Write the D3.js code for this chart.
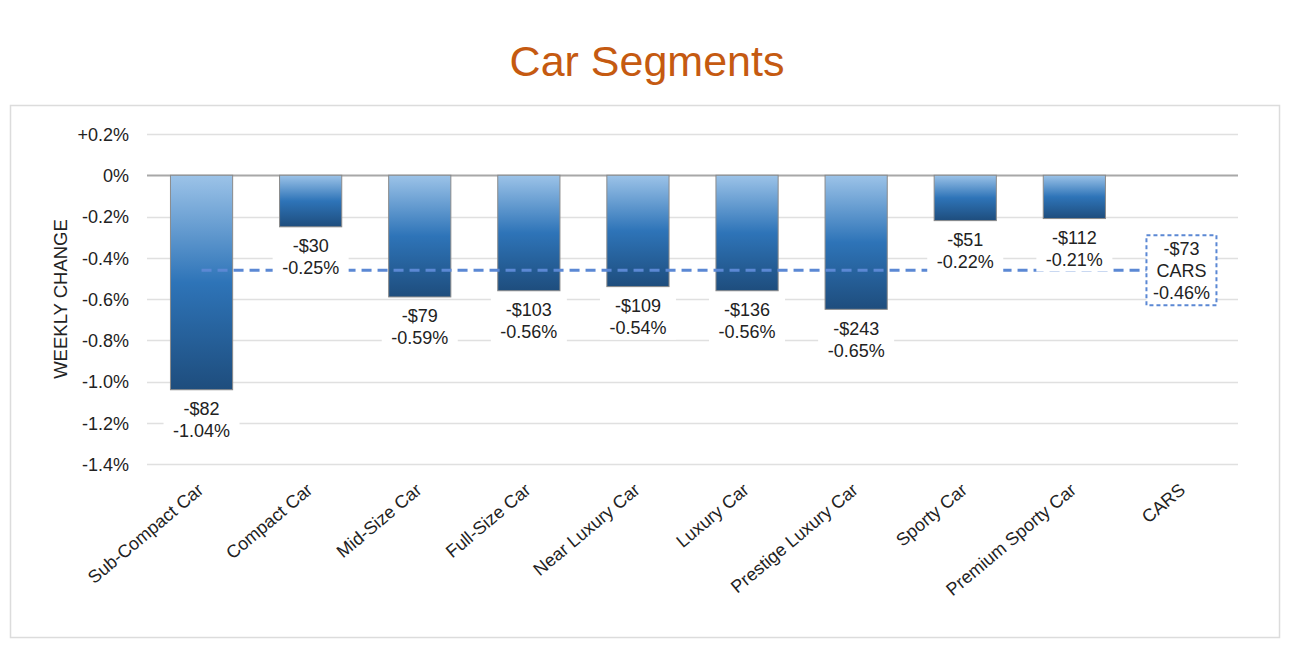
<!doctype html>
<html>
<head>
<meta charset="utf-8" />
<style>
  body { margin: 0; background: #fff; }
  svg text { font-family: "Liberation Sans", Arial, sans-serif; }
</style>
</head>
<body>
<svg id="chart" width="1292" height="652"></svg>
<script src="https://cdn.jsdelivr.net/npm/d3@7"></script>
<script>
// data
var segments = ["Sub-Compact Car", "Compact Car", "Mid-Size Car", "Full-Size Car", "Near Luxury Car",
                "Luxury Car", "Prestige Luxury Car", "Sporty Car", "Premium Sporty Car"];
var pctChange = [-1.04, -0.25, -0.59, -0.56, -0.54, -0.56, -0.65, -0.22, -0.21];
var dollarChange = [-82, -30, -79, -103, -109, -136, -243, -51, -112];
var totalName = "CARS";
var totalPct = -0.46;
var totalDollar = -73;
var yTicks = [0.2, 0, -0.2, -0.4, -0.6, -0.8, -1.0, -1.2, -1.4];

var svg = d3.select("#chart");
var cats = segments.concat([totalName]);
var fs = 18;

var x = d3.scaleBand().domain(cats).range([147, 1238]).paddingInner(0.43).paddingOuter(0.215);
var y = d3.scaleLinear().domain([-1.4, 0.2]).range([464, 134]);

var fmtTick = function (v) {
  if (Math.abs(v) < 1e-9) return "0%";
  return (v > 0 ? "+" : "") + v.toFixed(1) + "%";
};
var fmtDollar = function (v) { return (v < 0 ? "-$" : "$") + Math.abs(v); };

// outer frame
svg.append("rect").attr("x", 10.5).attr("y", 105.5).attr("width", 1269).attr("height", 532)
  .attr("fill", "none").attr("stroke", "#dcdcdc").attr("stroke-width", 1.5);

// title
svg.append("text").attr("x", 647).attr("y", 76).attr("text-anchor", "middle")
  .attr("font-size", 43).attr("fill", "#C55A11").text("Car Segments");

// gradient
var grad = svg.append("defs").append("linearGradient").attr("id", "barGrad")
  .attr("x1", 0).attr("y1", 0).attr("x2", 0).attr("y2", 1);
grad.append("stop").attr("offset", "0%").attr("stop-color", "#9CC3E8");
grad.append("stop").attr("offset", "50%").attr("stop-color", "#2E74B8");
grad.append("stop").attr("offset", "100%").attr("stop-color", "#1E4D7D");

// grid + y axis
var yAxis = d3.axisLeft(y).tickValues(yTicks).tickFormat(fmtTick).tickSize(0).tickPadding(0);
var ga = svg.append("g").attr("transform", "translate(129,0)").call(yAxis);
ga.select(".domain").remove();
ga.selectAll("text").attr("font-size", fs).attr("fill", "#222").attr("dy", "0.35em")
  .style("font-family", "'Liberation Sans', Arial, sans-serif");

svg.append("g").selectAll("line").data(yTicks).join("line")
  .attr("x1", 147).attr("x2", 1238)
  .attr("y1", function (d) { return Math.round(y(d)) + 0.5; })
  .attr("y2", function (d) { return Math.round(y(d)) + 0.5; })
  .attr("stroke", function (d) { return d === 0 ? "#a8a8a8" : "#e0e0e0"; })
  .attr("stroke-width", function (d) { return d === 0 ? 2 : 1.5; });

svg.append("text").attr("transform", "translate(67," + y(-0.6) + ") rotate(-90)")
  .attr("text-anchor", "middle").attr("font-size", 18.5).attr("fill", "#222").text("WEEKLY CHANGE");

// bars
svg.append("g").selectAll("rect").data(segments).join("rect")
  .attr("x", function (d) { return x(d); })
  .attr("y", y(0))
  .attr("width", x.bandwidth())
  .attr("height", function (d, i) { return y(pctChange[i]) - y(0); })
  .attr("fill", "url(#barGrad)")
  .attr("stroke", "#8a8a8a").attr("stroke-width", 1);

// average line
svg.append("line")
  .attr("x1", x(segments[0]) + x.bandwidth() / 2).attr("x2", x(totalName))
  .attr("y1", y(totalPct)).attr("y2", y(totalPct))
  .attr("stroke", "#5B88D4").attr("stroke-width", 3).attr("stroke-dasharray", "10,6");

// bar labels
var lab = svg.append("g").selectAll("g").data(segments).join("g")
  .attr("transform", function (d, i) {
    return "translate(" + (x(d) + x.bandwidth() / 2) + "," + y(pctChange[i]) + ")";
  });
lab.append("rect").attr("x", -38).attr("y", 7).attr("width", 76).attr("height", 46).attr("fill", "#fff");
lab.append("text").attr("y", 19).attr("dy", "0.35em").attr("text-anchor", "middle")
  .attr("font-size", fs).attr("fill", "#222")
  .text(function (d, i) { return fmtDollar(dollarChange[i]); });
lab.append("text").attr("y", 41).attr("dy", "0.35em").attr("text-anchor", "middle")
  .attr("font-size", fs).attr("fill", "#222")
  .text(function (d, i) { return pctChange[i].toFixed(2) + "%"; });

// total box
var cx = x(totalName) + x.bandwidth() / 2 - 2;
var tb = svg.append("g").attr("transform", "translate(" + cx + "," + y(totalPct) + ")");
tb.append("rect").attr("x", -35).attr("y", -35).attr("width", 70).attr("height", 70)
  .attr("fill", "#fff").attr("stroke", "#5B88D4").attr("stroke-width", 2).attr("stroke-dasharray", "4,3");
[fmtDollar(totalDollar), totalName, totalPct.toFixed(2) + "%"].forEach(function (t, i) {
  tb.append("text").attr("y", -21 + i * 22).attr("dy", "0.35em").attr("text-anchor", "middle")
    .attr("font-size", fs).attr("fill", "#222").text(t);
});

// x labels
svg.append("g").selectAll("text").data(cats).join("text")
  .attr("transform", function (d) {
    return "translate(" + (x(d) + x.bandwidth() / 2 - 1) + ",487) rotate(-40)";
  })
  .attr("text-anchor", "end").attr("dy", "0.35em")
  .attr("font-size", fs).attr("fill", "#222").text(function (d) { return d; });
</script>
</body>
</html>
